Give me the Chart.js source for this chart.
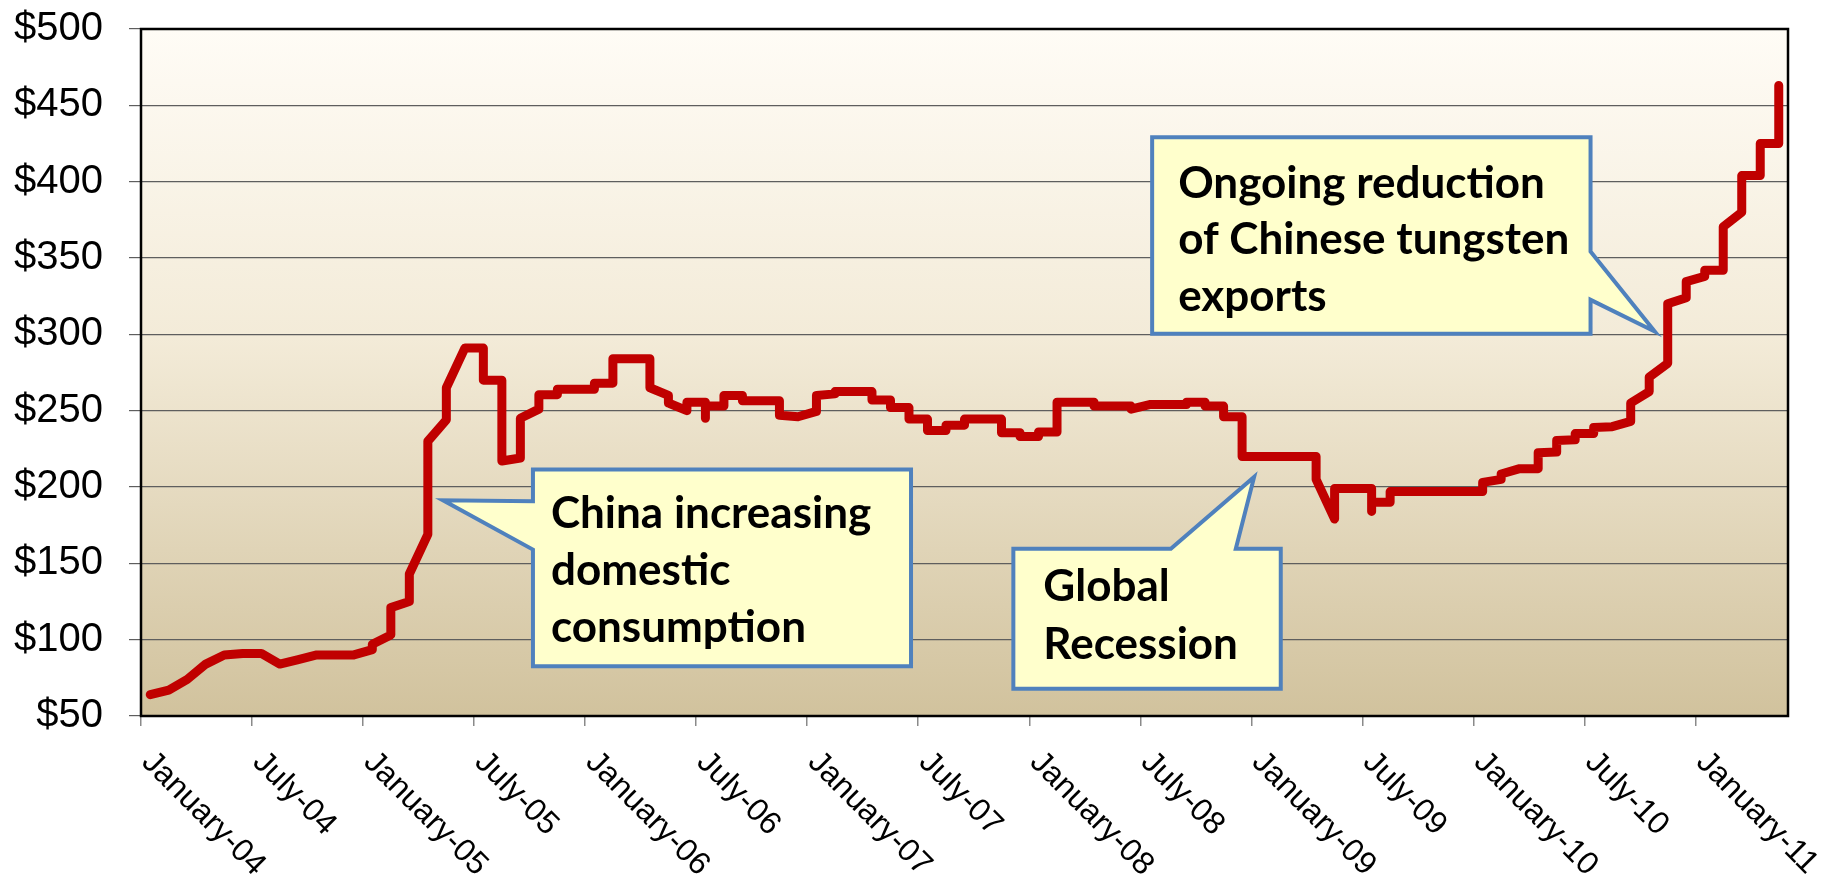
<!DOCTYPE html>
<html>
<head>
<meta charset="utf-8">
<script src="https://cdn.jsdelivr.net/npm/chart.js@4.4.0/dist/chart.umd.min.js"></script>
<style>
  html, body { margin: 0; padding: 0; background: #fff; }
  canvas { display: block; }
</style>
</head>
<body>
<canvas id="myChart" width="1823" height="878"></canvas>
<script>
// month index since January 2004, one entry per (roughly weekly) quote
const month = [
  0, 1, 2, 3, 4, 5, 6, 7, 8, 9, 10, 11,
  12, 12, 13, 13, 14, 14, 15, 15, 16, 16, 17, 18, 18, 19, 19, 20, 20,
  21, 21, 22, 22, 23, 24, 24, 25, 25, 26, 27, 27, 28, 28, 29, 29,
  30, 30, 30, 31, 31, 32, 32, 33, 34, 34, 35, 36, 36, 37, 37, 38,
  39, 39, 40, 40, 41, 41, 42, 42, 43, 43, 44, 44, 45, 46, 46, 47, 47,
  48, 48, 49, 49, 50, 51, 51, 52, 53, 53, 54, 55, 56, 56, 57, 57,
  58, 58, 59, 59, 60, 61, 62, 63, 63, 64, 64, 65, 66, 66, 66, 67, 67,
  68, 69, 70, 71, 72, 72, 73, 73, 74, 75, 75, 76, 76, 77, 77, 78, 78,
  79, 80, 80, 81, 81, 82, 82, 83, 83, 84, 84, 85, 85, 86, 86, 87, 87, 88, 88
];
const price = [
  64, 67, 74, 84, 90, 91, 91, 84, 87, 90, 90, 90,
  93.5, 97, 103, 121, 125, 143, 169, 230, 244, 265, 291, 291, 270, 270, 217, 219, 245,
  251, 260.5, 260.5, 264, 264, 264, 268, 268, 284, 284, 284, 265, 260, 255, 250, 255.5,
  255.5, 245, 253, 253, 260, 260, 256.5, 256.5, 256.5, 247, 246, 249.5, 260, 261, 262.5, 262.5,
  262.5, 257, 257, 252, 252, 244.5, 244.5, 237, 237, 240.5, 240.5, 244.5, 244.5, 244.5, 235.5, 235.5, 233,
  233, 236, 236, 255.5, 255.5, 255.5, 253, 253, 253, 251, 254, 254, 254, 255.5, 255.5, 253,
  253, 246, 246, 220, 220, 220, 220, 220, 205, 179, 199, 199, 199, 184, 190, 190, 197,
  197, 197, 197, 197, 197, 203, 205, 208.5, 212, 212, 222.5, 223, 230.5, 231, 235, 235, 239,
  239.5, 243, 255, 262.5, 272, 281, 320, 324, 334.5, 338, 342, 342, 370.5, 380, 404, 404, 425, 425, 463
];
const tickMonths = [0, 6, 12, 18, 24, 30, 36, 42, 48, 54, 60, 66, 72, 78, 84];
const tickLabels = [
  'January-04', 'July-04', 'January-05', 'July-05', 'January-06', 'July-06',
  'January-07', 'July-07', 'January-08', 'July-08', 'January-09', 'July-09',
  'January-10', 'July-10', 'January-11'
];

// callouts, anchored in data units (month, $)
const callouts = [
  { lines: ['China increasing', 'domestic', 'consumption'],
    box: [21.18, 211.4, 41.61, 82.6], side: 'left', base: [190.6, 159], tip: [16.32, 191.3],
    pad: 18, baselines: [58, 115, 172] },
  { lines: ['Global', 'Recession'],
    box: [47.14, 159.5, 61.59, 67.8], side: 'top', base: [55.65, 59.16], tip: [60.15, 206.6],
    pad: 30, baselines: [52, 110] },
  { lines: ['Ongoing reduction', 'of Chinese tungsten', 'exports'],
    box: [54.64, 429.1, 78.33, 300.4], side: 'right', base: [354.2, 322.6], tip: [81.8, 301.9],
    pad: 26, baselines: [61, 117, 174] }
];

const points = month.map((m, i) => ({ x: m + 0.5, y: price[i] }));

const plotDecor = {
  id: 'plotDecor',
  beforeDraw(chart) {
    const { ctx, chartArea: a } = chart;
    const g = ctx.createLinearGradient(0, a.top, 0, a.bottom);
    g.addColorStop(0, '#FFFCF6');
    g.addColorStop(0.45, '#F3EBD8');
    g.addColorStop(1, '#D1C29D');
    ctx.save();
    ctx.fillStyle = g;
    ctx.fillRect(a.left, a.top, a.width, a.height);
    ctx.restore();
  },
  beforeDatasetsDraw(chart) {
    const { ctx, chartArea: a } = chart;
    ctx.save();
    ctx.strokeStyle = '#000';
    ctx.lineWidth = 2.5;
    ctx.strokeRect(a.left, a.top, a.width, a.height);
    ctx.restore();
  },
  afterDatasetsDraw(chart) {
    const { ctx } = chart;
    const xs = chart.scales.x, ys = chart.scales.y;
    const px = v => xs.getPixelForValue(v), py = v => ys.getPixelForValue(v);
    ctx.save();
    callouts.forEach(c => {
      const x1 = px(c.box[0]), y1 = py(c.box[1]), x2 = px(c.box[2]), y2 = py(c.box[3]);
      const tx = px(c.tip[0]), ty = py(c.tip[1]);
      ctx.beginPath();
      if (c.side === 'left') {
        ctx.moveTo(x1, y1); ctx.lineTo(x2, y1); ctx.lineTo(x2, y2); ctx.lineTo(x1, y2);
        ctx.lineTo(x1, py(c.base[1])); ctx.lineTo(tx, ty); ctx.lineTo(x1, py(c.base[0]));
      } else if (c.side === 'top') {
        ctx.moveTo(x1, y1); ctx.lineTo(px(c.base[0]), y1); ctx.lineTo(tx, ty);
        ctx.lineTo(px(c.base[1]), y1); ctx.lineTo(x2, y1); ctx.lineTo(x2, y2); ctx.lineTo(x1, y2);
      } else {
        ctx.moveTo(x1, y1); ctx.lineTo(x2, y1); ctx.lineTo(x2, py(c.base[0])); ctx.lineTo(tx, ty);
        ctx.lineTo(x2, py(c.base[1])); ctx.lineTo(x2, y2); ctx.lineTo(x1, y2);
      }
      ctx.closePath();
      ctx.fillStyle = '#FFFFCC';
      ctx.fill();
      ctx.lineWidth = 4;
      ctx.strokeStyle = '#4F81BD';
      ctx.stroke();

      ctx.fillStyle = '#000';
      ctx.font = 'bold 44px Lato';
      ctx.textAlign = 'left';
      ctx.textBaseline = 'alphabetic';
      c.lines.forEach((t, i) => ctx.fillText(t, x1 + c.pad, y1 + c.baselines[i]));
    });
    ctx.restore();
  },
  afterDraw(chart) {
    // rotated date labels, reading down to the right from each tick
    const { ctx } = chart;
    const xs = chart.scales.x;
    const top = chart.chartArea.bottom;
    ctx.save();
    ctx.font = '32px "Liberation Sans"';
    ctx.fillStyle = '#000';
    ctx.textAlign = 'left';
    ctx.textBaseline = 'top';
    tickMonths.forEach((m, i) => {
      ctx.save();
      ctx.translate(xs.getPixelForValue(m) + 17, top + 30);
      ctx.rotate(Math.PI / 4);
      ctx.fillText(tickLabels[i], 0, 0);
      ctx.restore();
    });
    ctx.restore();
  }
};

new Chart(document.getElementById('myChart'), {
  type: 'line',
  data: {
    datasets: [{
      data: points,
      borderColor: '#C00000',
      borderWidth: 9,
      borderCapStyle: 'round',
      borderJoinStyle: 'round',
      pointRadius: 0,
      tension: 0,
      fill: false
    }]
  },
  options: {
    responsive: false,
    animation: false,
    devicePixelRatio: 1,
    layout: { padding: { top: 29, right: 35, left: 0, bottom: 0 } },
    plugins: { legend: { display: false }, tooltip: { enabled: false } },
    scales: {
      x: {
        type: 'linear',
        min: 0,
        max: 89,
        afterBuildTicks: scale => { scale.ticks = tickMonths.map(v => ({ value: v })); },
        afterFit: scale => { scale.height = 162; },
        ticks: { display: false },
        grid: { drawOnChartArea: false, drawTicks: true, tickLength: 10, color: '#8a8a8a', lineWidth: 1.5 },
        border: { display: false }
      },
      y: {
        min: 50,
        max: 500,
        afterFit: scale => {
          scale.width = 141;
          scale.paddingTop = 0;
          scale.paddingBottom = 0;
        },
        ticks: {
          stepSize: 50,
          padding: 26,
          color: '#000',
          font: { family: '"Liberation Sans"', size: 40 },
          callback: v => '$' + v
        },
        grid: { color: '#5e5e5e', lineWidth: 1.2, tickLength: 12 },
        border: { display: false }
      }
    }
  },
  plugins: [plotDecor]
});
</script>
</body>
</html>
